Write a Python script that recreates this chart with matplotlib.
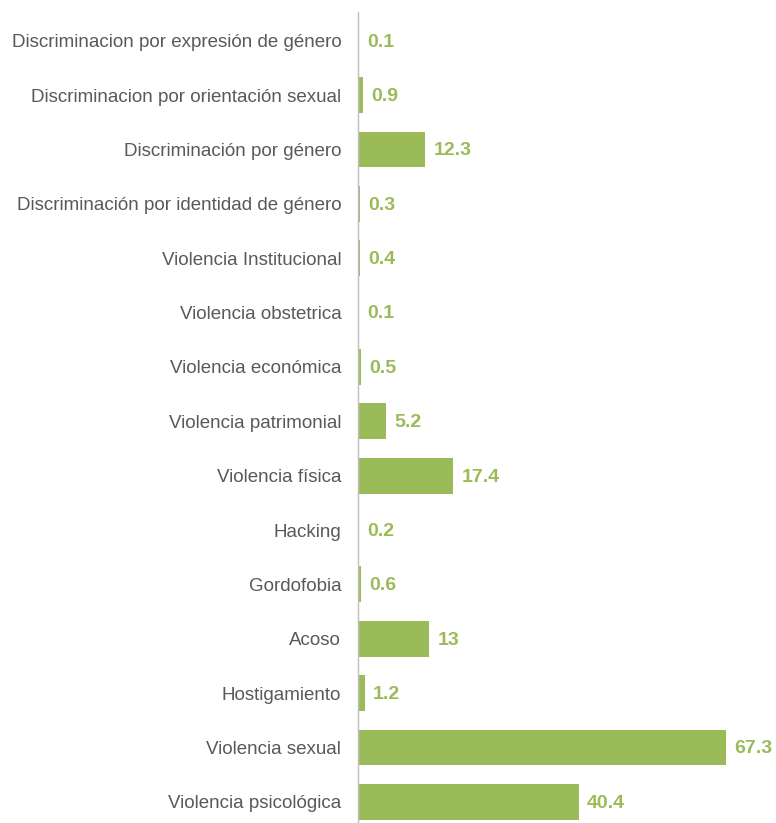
import matplotlib
matplotlib.use("Agg")
import matplotlib.pyplot as plt

categories = [
    "Discriminacion por expresión de género",
    "Discriminacion por orientación sexual",
    "Discriminación por género",
    "Discriminación por identidad de género",
    "Violencia Institucional",
    "Violencia obstetrica",
    "Violencia económica",
    "Violencia patrimonial",
    "Violencia física",
    "Hacking",
    "Gordofobia",
    "Acoso",
    "Hostigamiento",
    "Violencia sexual",
    "Violencia psicológica",
]
values = [0.1, 0.9, 12.3, 0.3, 0.4, 0.1, 0.5, 5.2, 17.4, 0.2, 0.6, 13, 1.2, 67.3, 40.4]
value_labels = ["0.1", "0.9", "12.3", "0.3", "0.4", "0.1", "0.5", "5.2", "17.4", "0.2", "0.6", "13", "1.2", "67.3", "40.4"]

green = "#9BBB59"
plt.rcParams['font.family'] = ['Liberation Sans', 'DejaVu Sans']

fig = plt.figure(figsize=(7.76, 8.23), dpi=100)
ax = fig.add_axes([358/776, 0.0, 1 - 358/776, 1 - 12/823])

ypos = list(range(len(categories)))
ax.barh(ypos, values, height=0.66, color=green, edgecolor='none')
ax.set_ylim(14.39, -0.53)
ax.set_xlim(0, (776 - 358) / 5.468)

for y, v, lab in zip(ypos, values, value_labels):
    ax.annotate(lab, (v, y), xytext=(6, -1), textcoords='offset points',
                va='center', ha='left', color=green, fontsize=14, fontweight='bold')

ax.set_yticks(ypos)
ax.set_yticklabels(categories, fontsize=13.5, color='#595959')
ax.tick_params(axis='y', length=0, pad=12)
ax.set_xticks([])
for s in ['top', 'right', 'bottom']:
    ax.spines[s].set_visible(False)
ax.spines['left'].set_color('#BFBFBF')
ax.spines['left'].set_linewidth(1.0)

fig.savefig("out.png", dpi=100)
